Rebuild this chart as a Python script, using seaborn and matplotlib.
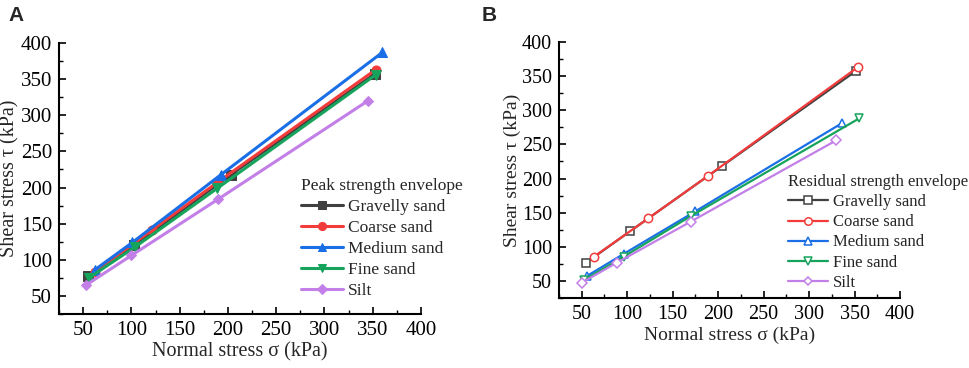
import numpy as np
import pandas as pd
import matplotlib
matplotlib.use("Agg")
import matplotlib.pyplot as plt
import seaborn as sns
from matplotlib.ticker import MultipleLocator

sns.set_theme(style="ticks")
plt.rcParams['font.family'] = ['Liberation Serif', 'DejaVu Serif']
plt.rcParams['mathtext.fontset'] = 'stix'

soils = ["Gravelly sand", "Coarse sand", "Medium sand", "Fine sand", "Silt"]
colors = ["#404040", "#f23c3c", "#1a6fe6", "#16a35c", "#c27fe8"]
markers_a = ["s", "o", "^", "v", "D"]

# Panel A: peak strength
peak_sigma = {
    "Gravelly sand": [55, 103, 203, 352],
    "Coarse sand": [62, 121, 189, 353],
    "Medium sand": [62, 101, 193, 360],
    "Fine sand": [56, 104, 189, 353],
    "Silt": [53, 100, 190, 345],
}
peak_tau = {
    "Gravelly sand": [78, 120, 218, 357],
    "Coarse sand": [83, 141, 207, 363],
    "Medium sand": [86, 124, 218, 387],
    "Fine sand": [75, 118, 199, 356],
    "Silt": [65, 106, 184, 320],
}

# Panel B: residual strength
res_sigma = {
    "Gravelly sand": [55, 103.5, 204, 352],
    "Coarse sand": [63.5, 123, 189, 353.5],
    "Medium sand": [55.5, 96, 175, 336],
    "Fine sand": [52, 96, 170, 355],
    "Silt": [50, 89, 170, 330],
}
res_tau = {
    "Gravelly sand": [77, 123, 218, 358],
    "Coarse sand": [85.5, 141.5, 204, 363],
    "Medium sand": [57, 89.5, 152, 281],
    "Fine sand": [51, 85.5, 145, 288],
    "Silt": [47.5, 77, 137, 256],
}

xticks = [50, 100, 150, 200, 250, 300, 350, 400]
yticks = [50, 100, 150, 200, 250, 300, 350, 400]

fig = plt.figure(figsize=(9.69, 3.68), dpi=100)
W, H = 969, 368
axA = fig.add_axes([59 / W, 1 - 314 / H, (421 - 59) / W, (314 - 43) / H])
axB = fig.add_axes([559 / W, 1 - 298 / H, (900 - 559) / W, (298 - 42) / H])


def style_axis(ax, ticksize, labelsize):
    ax.set_xlim(25, 400)
    ax.set_ylim(25, 400)
    ax.set_xticks(xticks)
    ax.set_yticks(yticks)
    ax.xaxis.set_minor_locator(MultipleLocator(25))
    ax.yaxis.set_minor_locator(MultipleLocator(25))
    ax.tick_params(which='major', direction='in', length=5, width=1.2,
                   labelsize=ticksize, colors='black', pad=5)
    ax.tick_params(which='minor', direction='in', length=3, width=1.0, colors='black')
    for s in ['top', 'right']:
        ax.spines[s].set_visible(False)
    for s in ['left', 'bottom']:
        ax.spines[s].set_linewidth(1.5)
        ax.spines[s].set_color('black')
    ax.set_facecolor('white')
    ax.set_xlabel("Normal stress σ (kPa)", fontsize=labelsize, labelpad=2)
    ax.set_ylabel("Shear stress τ (kPa)", fontsize=labelsize, labelpad=1)


for soil, c, m in zip(soils, colors, markers_a):
    sns.lineplot(x=peak_sigma[soil], y=peak_tau[soil], ax=axA, color=c, marker=m,
                 markersize=6.5 if m != "D" else 5.5, markeredgecolor=c, linewidth=2.2,
                 sort=False, label=soil)

for soil, c, m in zip(soils, colors, markers_a):
    sns.lineplot(x=res_sigma[soil], y=res_tau[soil], ax=axB, color=c, marker=m,
                 markersize=6 if m != "D" else 5, markerfacecolor='white',
                 markeredgecolor=c, markeredgewidth=1.1, linewidth=1.6,
                 sort=False, label=soil)

style_axis(axA, 15, 14.5)
style_axis(axB, 14.5, 14)

legA = axA.legend(title="Peak strength envelope", loc='upper left',
                  bbox_to_anchor=(301 / W, 1 - 178 / H), bbox_transform=fig.transFigure,
                  frameon=False, fontsize=12.5, title_fontsize=12.5,
                  handlelength=2.4, handletextpad=0.3, labelspacing=0.28,
                  borderaxespad=0, borderpad=0, alignment='left', markerscale=0.9)
legB = axB.legend(title="Residual strength envelope", loc='upper left',
                  bbox_to_anchor=(788 / W, 1 - 174 / H), bbox_transform=fig.transFigure,
                  frameon=False, fontsize=12, title_fontsize=12,
                  handlelength=2.4, handletextpad=0.3, labelspacing=0.25,
                  borderaxespad=0, borderpad=0, alignment='left', markerscale=0.9)

fig.text(8 / W, 1 - 6 / H, "A", fontsize=15, fontweight='bold',
         family=['Liberation Sans', 'DejaVu Sans'], va='top', ha='left')
fig.text(482 / W, 1 - 6 / H, "B", fontsize=15, fontweight='bold',
         family=['Liberation Sans', 'DejaVu Sans'], va='top', ha='left')

fig.savefig("out.png", dpi=100, facecolor='white')
